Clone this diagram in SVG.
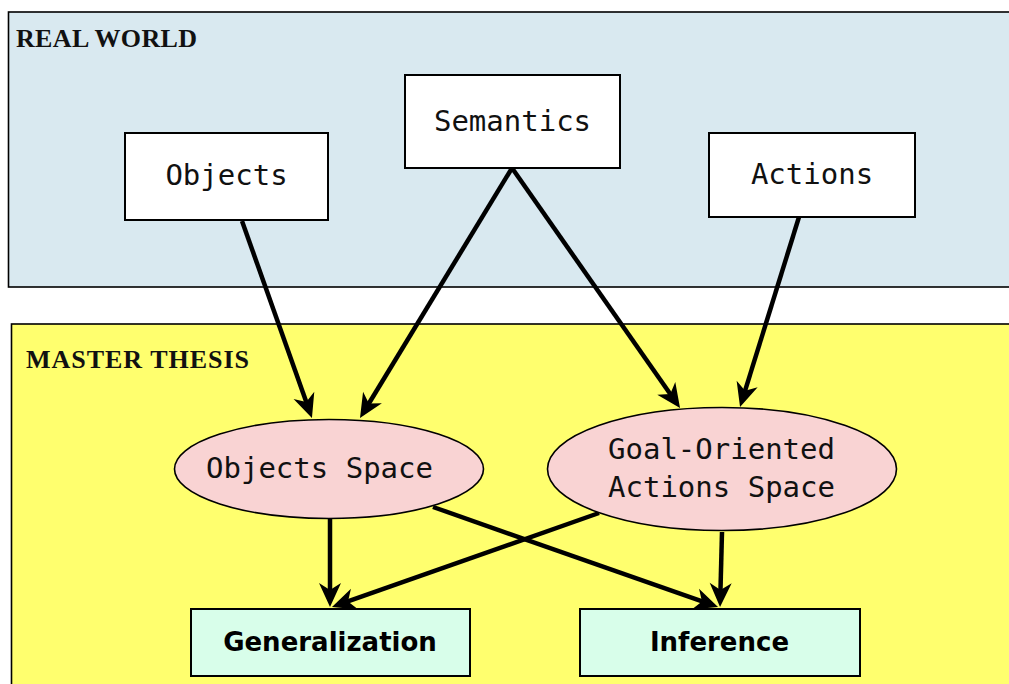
<svg xmlns="http://www.w3.org/2000/svg" width="1009" height="684" viewBox="0 0 1009 684">
  <style>
    .area { stroke: #000; stroke-width: 1.6; }
    .area-title { font-family: "Liberation Serif", "Times New Roman", serif; font-weight: bold; font-size: 26px; fill: #111; }
    .box { fill: #fff; stroke: #000; stroke-width: 2; }
    .space { fill: #f9d3d3; stroke: #000; stroke-width: 1.6; }
    .result { fill: #d8feea; stroke: #000; stroke-width: 2; }
    .mono { font-family: "DejaVu Sans Mono", "Liberation Mono", monospace; font-size: 29px; fill: #111; text-anchor: middle; }
    .bold { font-family: "DejaVu Sans", "Liberation Sans", sans-serif; font-weight: bold; font-size: 26px; fill: #000; text-anchor: middle; }
    .edge { fill: none; stroke: #000; stroke-width: 4.5; marker-end: url(#head); }
  </style>
  <defs>
    <marker id="head" markerUnits="userSpaceOnUse" orient="auto" refX="0" refY="0" markerWidth="40" markerHeight="40" overflow="visible">
      <path d="M10,0 L-14,-11 L-7,0 L-14,11 Z" fill="#000"/>
    </marker>
  </defs>

  <rect width="1009" height="684" fill="#fff"/>

  <!-- containers -->
  <g id="real-world">
    <rect class="area" x="8.5" y="12" width="1010" height="275" fill="#d9e9f0"/>
    <text class="area-title" x="16" y="47" textLength="181" lengthAdjust="spacing">REAL WORLD</text>
  </g>
  <g id="master-thesis">
    <rect class="area" x="11.5" y="324" width="1010" height="380" fill="#ffff6e"/>
    <text class="area-title" x="26" y="368" textLength="223" lengthAdjust="spacing">MASTER THESIS</text>
  </g>

  <!-- connectors -->
  <g id="connectors">
    <path class="edge" d="M242,221 L308.6,408.6"/>
    <path class="edge" d="M512,168 L365.2,409.5"/>
    <path class="edge" d="M512,168 L674.3,399.8"/>
    <path class="edge" d="M799,217 L743,397.4"/>
    <path class="edge" d="M330,519 L330,597"/>
    <path class="edge" d="M599,513 L341.4,603.7"/>
    <path class="edge" d="M433,507 L708.6,603.7"/>
    <path class="edge" d="M722,532 L720.3,597"/>
  </g>

  <!-- real-world nodes -->
  <g id="objects">
    <rect class="box" x="125" y="133" width="203" height="87"/>
    <text class="mono" x="226.5" y="185">Objects</text>
  </g>
  <g id="semantics">
    <rect class="box" x="405" y="75" width="215" height="93"/>
    <text class="mono" x="512.5" y="131">Semantics</text>
  </g>
  <g id="actions">
    <rect class="box" x="709" y="133" width="206" height="84"/>
    <text class="mono" x="812" y="184">Actions</text>
  </g>

  <!-- thesis nodes -->
  <g id="objects-space">
    <ellipse class="space" cx="329" cy="469" rx="154.5" ry="49.5"/>
    <text class="mono" x="319.5" y="478">Objects Space</text>
  </g>
  <g id="goal-actions-space">
    <ellipse class="space" cx="722" cy="469" rx="174.5" ry="61.5"/>
    <text class="mono" x="721.5" y="459">Goal-Oriented</text>
    <text class="mono" x="721.5" y="497">Actions Space</text>
  </g>
  <g id="generalization">
    <rect class="result" x="191" y="609" width="279" height="67"/>
    <text class="bold" x="330" y="651">Generalization</text>
  </g>
  <g id="inference">
    <rect class="result" x="580" y="609" width="280" height="67"/>
    <text class="bold" x="719.5" y="651">Inference</text>
  </g>
</svg>
